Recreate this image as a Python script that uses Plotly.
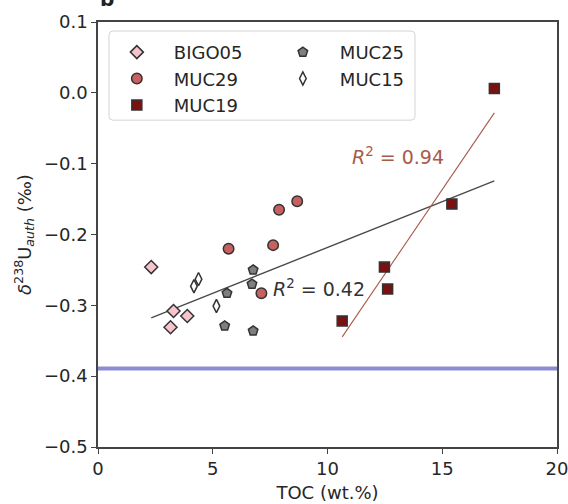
import numpy as np
import plotly.graph_objects as go

# ---- data ----
bigo05_x = [2.32, 3.29, 3.89, 3.16]
bigo05_y = [-0.246, -0.308, -0.315, -0.331]

muc29_x = [7.89, 8.68, 5.69, 7.63, 7.12]
muc29_y = [-0.165, -0.153, -0.220, -0.215, -0.283]

muc19_x = [17.27, 15.42, 12.48, 12.62, 10.64]
muc19_y = [0.006, -0.157, -0.246, -0.277, -0.322]

muc25_x = [6.76, 6.71, 5.62, 5.52, 6.76]
muc25_y = [-0.250, -0.270, -0.283, -0.329, -0.336]

muc15_x = [4.18, 4.38, 5.16]
muc15_y = [-0.273, -0.263, -0.301]

seawater_y = -0.389
r2_all_label = "0.42"
r2_muc19_label = "0.94"

x_ticks = [0, 5, 10, 15, 20]
y_ticks = [0.1, 0.0, -0.1, -0.2, -0.3, -0.4, -0.5]

FONT = "DejaVu Sans"
EDGE = "#333333"

fig = go.Figure()

# ---- regression lines ----
all_x = np.array(bigo05_x + muc29_x + muc19_x + muc25_x + muc15_x)
all_y = np.array(bigo05_y + muc29_y + muc19_y + muc25_y + muc15_y)
k, b = np.polyfit(all_x, all_y, 1)
xs = np.array([all_x.min(), all_x.max()])
fig.add_trace(go.Scatter(x=xs, y=k * xs + b, mode="lines",
                         line=dict(color="#4a4a4a", width=1.4),
                         showlegend=False, hoverinfo="skip"))

mx = np.array(muc19_x)
my = np.array(muc19_y)
k2, b2 = np.polyfit(mx, my, 1)
xs2 = np.array([mx.min(), mx.max()])
fig.add_trace(go.Scatter(x=xs2, y=k2 * xs2 + b2, mode="lines",
                         line=dict(color="#a85a48", width=1.1),
                         showlegend=False, hoverinfo="skip"))

# ---- seawater line ----
fig.add_hline(y=seawater_y, line=dict(color="rgba(120,120,205,0.85)", width=4))


def pts(name, x, y, symbol, fill, size, legend, group):
    fig.add_trace(go.Scatter(
        x=x, y=y, mode="markers", name=name,
        marker=dict(symbol=symbol, color=fill, size=size,
                    line=dict(color=EDGE, width=1.5)),
        legend=legend, legendgroup=group))


pts("BIGO05", bigo05_x, bigo05_y, "diamond", "#f7c4cd", 10, "legend", "g1")
pts("MUC29", muc29_x, muc29_y, "circle", "#c86060", 10.5, "legend", "g2")
pts("MUC19", muc19_x, muc19_y, "square", "#7a1010", 10, "legend", "g3")
pts("MUC25", muc25_x, muc25_y, "pentagon", "#7f7f7f", 10, "legend2", "g4")
pts("MUC15", muc15_x, muc15_y, "diamond-tall", "#ffffff", 9.5, "legend2", "g5")

# ---- annotations ----
fig.add_annotation(x=13.07, y=-0.089, xref="x", yref="y",
                   text="<i>R</i><sup>2</sup> = " + r2_muc19_label,
                   showarrow=False, font=dict(family=FONT, size=19, color="#a85a48"))
fig.add_annotation(x=9.62, y=-0.2755, xref="x", yref="y",
                   text="<i>R</i><sup>2</sup> = " + r2_all_label,
                   showarrow=False, font=dict(family=FONT, size=19, color="#333333"))

# ---- legend frame ----
x0, x1, y0, y1 = 0.024, 0.6906, 0.769, 0.9788
rx, ry = 4 / 459, 4 / 425
path = (f"M {x0+rx},{y0} L {x1-rx},{y0} Q {x1},{y0} {x1},{y0+ry} "
        f"L {x1},{y1-ry} Q {x1},{y1} {x1-rx},{y1} L {x0+rx},{y1} "
        f"Q {x0},{y1} {x0},{y1-ry} L {x0},{y0+ry} Q {x0},{y0} {x0+rx},{y0} Z")
fig.add_shape(type="path", path=path, xref="paper", yref="paper",
              line=dict(color="#d4d4d4", width=1), fillcolor="rgba(255,255,255,0.8)",
              layer="above")

legend_common = dict(font=dict(family=FONT, size=18, color="#262626"),
                     bgcolor="rgba(0,0,0,0)", borderwidth=0,
                     tracegroupgap=0, itemwidth=64, yanchor="top", xanchor="left")
fig.update_layout(
    legend=dict(x=0.004, y=0.972, **legend_common),
    legend2=dict(x=0.3657, y=0.972, **legend_common),
)

# panel letter (cropped at the top)
fig.add_annotation(x=0.0, y=1.02, xref="paper", yref="paper", text="<b>b</b>",
                   showarrow=False, xanchor="left", yanchor="bottom",
                   font=dict(family=FONT, size=20, color="#222222"))

axis_common = dict(showline=True, mirror=True, linecolor="#444444", linewidth=1.5,
                   ticks="outside", ticklen=5, tickwidth=1.3, tickcolor="#444444",
                   showgrid=False, zeroline=False, automargin=False,
                   ticklabeloverflow="allow",
                   tickfont=dict(family=FONT, size=18, color="#262626"))

fig.update_xaxes(range=[0, 20], tickvals=x_ticks, ticktext=[str(v) for v in x_ticks],
                 title=dict(text="TOC (wt.%)", font=dict(family=FONT, size=18, color="#262626"),
                            standoff=8),
                 **axis_common)
fig.update_yaxes(range=[-0.5, 0.1], tickvals=y_ticks, tickformat=".1f",
                 title=dict(text="<i>δ</i><sup>238</sup>U<sub><i>auth</i></sub> (‰)",
                            font=dict(family=FONT, size=18, color="#262626"), standoff=8),
                 **axis_common)

fig.update_layout(width=568, height=504, margin=dict(l=98, r=11, t=22, b=57),
                  plot_bgcolor="white", paper_bgcolor="white",
                  font=dict(family=FONT))

fig.write_html("out.html")
